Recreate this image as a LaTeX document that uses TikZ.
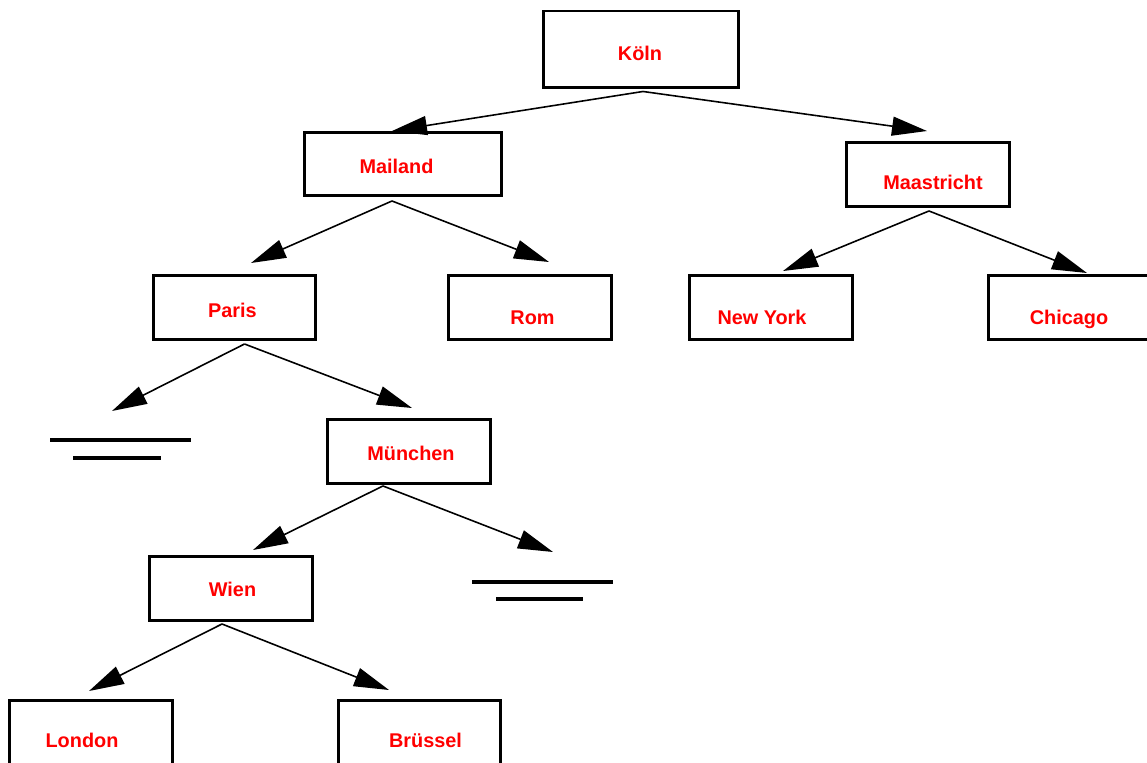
\documentclass[tikz,border=0pt]{standalone}
\usepackage{fontspec}
\setmainfont{Liberation Sans}
\usetikzlibrary{arrows.meta}

\begin{document}
\begin{tikzpicture}[
        x=0.02cm, y=-0.02cm,
        kasten/.style={draw, line width=1.7pt, inner sep=0pt, minimum width=3.26cm, minimum height=1.28cm},
        stadt/.style={anchor=base, inner sep=0pt, text=red, font=\fontsize{11.3}{13}\selectfont\bfseries},
        pfeil/.style={-{Triangle[length=0.7cm, width=0.38cm]}, line width=0.9pt},
        leer/.style={line width=1.8pt}
    ]
        \useasboundingbox (0,0) rectangle (1147,763);

        \node[kasten, minimum width=3.9cm, minimum height=1.54cm] (koeln) at (641,49.5) {};
        \node[kasten, minimum width=3.94cm, minimum height=1.26cm] (mailand) at (403,164) {};
        \node[kasten] (maastricht) at (928,174.5) {};
        \node[kasten] (paris) at (234.5,307.5) {};
        \node[kasten] (rom) at (530,307.5) {};
        \node[kasten] (newyork) at (771,307.5) {};
        \node[kasten] (chicago) at (1070,307.5) {};
        \node[kasten] (muenchen) at (409,451.5) {};
        \node[kasten] (wien) at (231,588.5) {};
        \node[kasten] (london) at (91,732) {};
        \node[kasten] (bruessel) at (419.5,732) {};

        \node[stadt] (koeln-t) at (640,61) {Köln};
        \node[stadt] (mailand-t) at (396.5,174) {Mailand};
        \node[stadt] (maastricht-t) at (933,190) {Maastricht};
        \node[stadt] (paris-t) at (232.5,318) {Paris};
        \node[stadt] (rom-t) at (532.5,325) {Rom};
        \node[stadt] (newyork-t) at (762,325) {New York};
        \node[stadt] (chicago-t) at (1069,325) {Chicago};
        \node[stadt] (muenchen-t) at (411,461) {München};
        \node[stadt] (wien-t) at (232.5,597) {Wien};
        \node[stadt] (london-t) at (82,747) {London};
        \node[stadt] (bruessel-t) at (425.5,747) {Brüssel};

        \coordinate (nil1) at (112,411);
        \coordinate (nil2) at (553,552);
        \draw[leer] (50,440) -- (191,440);
        \draw[leer] (73,458) -- (161,458);
        \draw[leer] (472,582) -- (613,582);
        \draw[leer] (496,599) -- (583,599);

        \draw[pfeil] ([shift={(2,2)}]koeln.south) -- ([shift={(-11,0)}]mailand.north);
        \draw[pfeil] ([shift={(2,2)}]koeln.south) -- ([shift={(-1,-10)}]maastricht.north);
        \draw[pfeil] ([shift={(-11,4)}]mailand.south) -- ([shift={(16.5,-11)}]paris.north);
        \draw[pfeil] ([shift={(-11,4)}]mailand.south) -- ([shift={(19,-12)}]rom.north);
        \draw[pfeil] ([shift={(1,3)}]maastricht.south) -- ([shift={(12,-3)}]newyork.north);
        \draw[pfeil] ([shift={(1,3)}]maastricht.south) -- ([shift={(17,-1)}]chicago.north);
        \draw[pfeil] ([shift={(10,3)}]paris.south) -- (nil1);
        \draw[pfeil] ([shift={(10,3)}]paris.south) -- ([shift={(3,-10)}]muenchen.north);
        \draw[pfeil] ([shift={(-26,1)}]muenchen.south) -- ([shift={(22,-5)}]wien.north);
        \draw[pfeil] ([shift={(-26,1)}]muenchen.south) -- (nil2);
        \draw[pfeil] ([shift={(-9,2)}]wien.south) -- ([shift={(-2,-7.5)}]london.north);
        \draw[pfeil] ([shift={(-9,2)}]wien.south) -- ([shift={(-30.5,-8.5)}]bruessel.north);
    \end{tikzpicture}
\end{document}
